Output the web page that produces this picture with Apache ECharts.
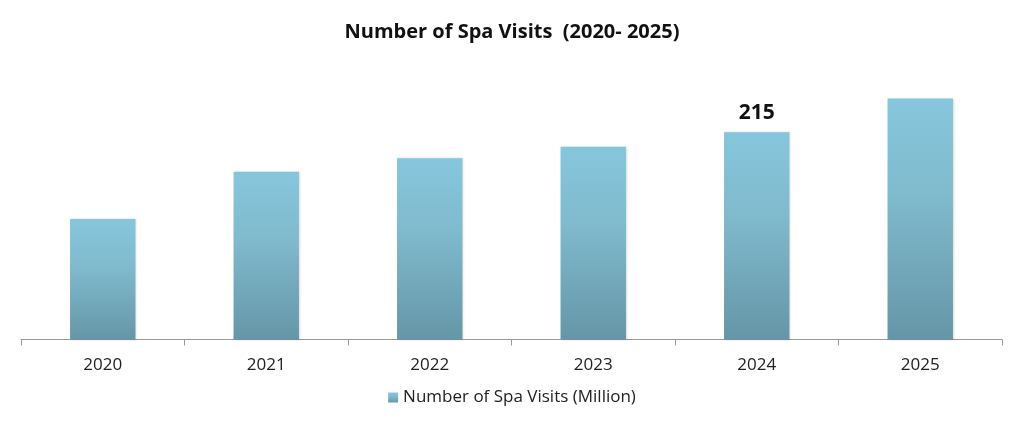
<!DOCTYPE html>
<html><head><meta charset="utf-8">
<script src="https://cdn.jsdelivr.net/npm/echarts@6/dist/echarts.min.js"></script>
<style>html,body{margin:0;padding:0;background:#fff}#c{width:1024px;height:426px}</style>
</head><body><div id="c"></div>
<script>
var categories = ['2020','2021','2022','2023','2024','2025'];
var values = [125, 174, 188, 200, 215, 250];
var labeledIndex = 4;
var seriesName = 'Number of Spa Visits (Million)';
var titleText = 'Number of Spa Visits  (2020- 2025)';

var chart = echarts.init(document.getElementById('c'));
var grad = new echarts.graphic.LinearGradient(0,0,0,1,[{offset:0,color:'#86c6dc'},{offset:0.4,color:'#80bacd'},{offset:1,color:'#6596a7'}]);
chart.setOption({
  animation:false,
  title:{text:titleText,left:'center',top:17,textStyle:{fontFamily:'Open Sans',fontWeight:'bold',fontSize:20,color:'#111'}},
  legend:{bottom:15,left:'center',itemWidth:10,itemHeight:10,itemGap:6,
    textStyle:{fontFamily:'Open Sans',fontSize:17,color:'#222'},
    data:[{name:seriesName,icon:'rect'}]},
  grid:{left:21,right:22,top:60,bottom:86.5},
  xAxis:{type:'category',data:categories,
    axisLine:{lineStyle:{color:'#999'}},
    axisTick:{show:true,length:6,lineStyle:{color:'#999'}},
    axisLabel:{fontFamily:'Open Sans',fontSize:17,color:'#222',margin:17}},
  yAxis:{type:'value',min:0,max:290,show:false,splitLine:{show:false}},
  series:[{name:seriesName,type:'bar',barWidth:'40%',
    itemStyle:{color:grad,shadowColor:'rgba(0,0,0,0.15)',shadowBlur:2,shadowOffsetX:1},
    label:{show:true,position:'top',distance:9,fontFamily:'Open Sans',fontWeight:'bold',fontSize:21,color:'#111',
      formatter:function(p){return p.dataIndex===labeledIndex?String(p.value):'';}},
    data:values}]
});
</script></body></html>
